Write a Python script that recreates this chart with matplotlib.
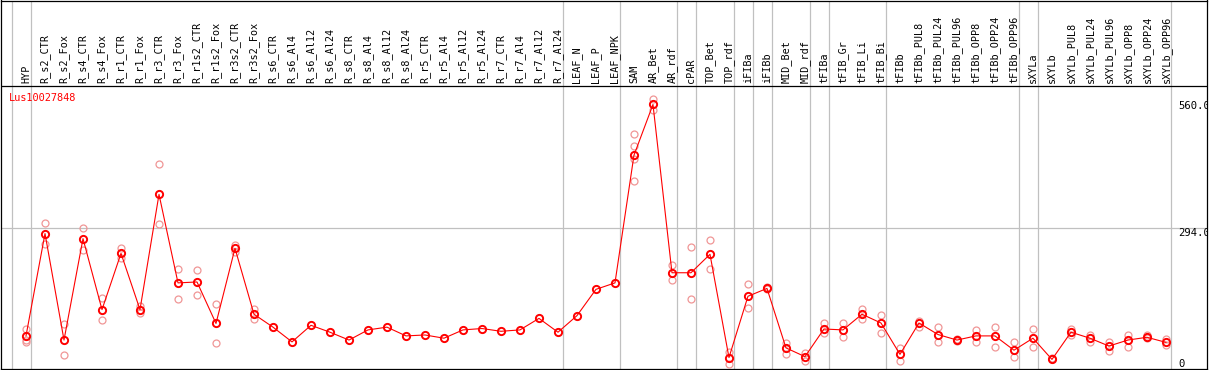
import numpy as np
import matplotlib
matplotlib.use("Agg")
import matplotlib.pyplot as plt

gene = "Lus10027848"

samples = ["HYP",
           "R_s2_CTR", "R_s2_Fox", "R_s4_CTR", "R_s4_Fox", "R_r1_CTR", "R_r1_Fox",
           "R_r3_CTR", "R_r3_Fox", "R_r1s2_CTR", "R_r1s2_Fox", "R_r3s2_CTR", "R_r3s2_Fox",
           "R_s6_CTR", "R_s6_Al4", "R_s6_Al12", "R_s6_Al24",
           "R_s8_CTR", "R_s8_Al4", "R_s8_Al12", "R_s8_Al24",
           "R_r5_CTR", "R_r5_Al4", "R_r5_Al12", "R_r5_Al24",
           "R_r7_CTR", "R_r7_Al4", "R_r7_Al12", "R_r7_Al24",
           "LEAF_N", "LEAF_P", "LEAF_NPK",
           "SAM", "AR_Bet", "AR_rdf",
           "cPAR", "TOP_Bet", "TOP_rdf", "iFIBa", "iFIBb", "MID_Bet", "MID_rdf",
           "tFIBa", "tFIB_Gr", "tFIB_Li", "tFIB_Bi",
           "tFIBb", "tFIBb_PUL8", "tFIBb_PUL24", "tFIBb_PUL96",
           "tFIBb_OPP8", "tFIBb_OPP24", "tFIBb_OPP96",
           "sXYLa",
           "sXYLb", "sXYLb_PUL8", "sXYLb_PUL24", "sXYLb_PUL96",
           "sXYLb_OPP8", "sXYLb_OPP24", "sXYLb_OPP96"]

# 每组样本的个数（组之间画灰色竖线）
group_sizes = [1, 28, 3, 3, 1, 2, 1, 1, 2, 1, 3, 7, 1, 7]

means = [61,
         283, 52, 272, 118, 240, 118, 368, 176, 178, 88, 251, 108,
         80, 48, 84, 69, 52, 74, 80, 61, 63, 56, 74, 77, 71, 74, 99, 69,
         105, 162, 176,
         453, 563, 198,
         198, 238, 14, 147, 164, 35, 16,
         76, 74, 108, 89,
         21, 89, 64, 52, 61, 61, 30,
         56,
         10, 69, 56, 39, 52, 58, 47]

replicates = [[77, 52, 48],
              [305, 261], [87, 20], [296, 248], [144, 95], [251, 229], [126, 111],
              [433, 303], [207, 142], [205, 149], [131, 45], [259, 243], [120, 97],
              [], [], [], [], [], [], [], [], [], [], [], [], [], [], [], [],
              [], [], [],
              [500, 474, 445, 396], [576, 552], [214, 182],
              [253, 142], [268, 207], [27, 0], [173, 121], [167, 162], [46, 22], [24, 7],
              [88, 68], [90, 59], [120, 98], [106, 68],
              [35, 6], [94, 81], [80, 48], [50, 55], [74, 48], [81, 36], [48, 15],
              [77, 36],
              [12, 10], [76, 63], [63, 48], [48, 29], [63, 37], [63, 56], [54, 41]]

scale_ticks = [0, 294, 560]
scale_labels = ["0", "294.0", "560.0"]
scale_valign = ["center", "top", "center"]

red = "#ff0000"
pink = "#f09696"
grey = "#c0c0c0"

fig = plt.figure(figsize=(12.09, 3.70), dpi=100)
ax = fig.add_axes([1 / 1209, 1 / 370, 1206 / 1209, 368.5 / 370])

x = np.arange(len(samples))
header_y = 604

# 组分隔竖线
bounds = np.cumsum([0] + group_sizes) - 1
for b in bounds:
    ax.axvline(b + 0.24, color=grey, lw=0.9, zorder=1)
ax.axhline(294, color=grey, lw=0.9, zorder=1)
ax.axhline(header_y, color="black", lw=0.9, zorder=2)

# 重复样本
rx = [i for i, r in enumerate(replicates) for _ in r]
ry = [v for r in replicates for v in r]
ax.plot(rx, ry, "o", ms=5, mfc="none", mec=pink, mew=0.9, zorder=3)

ax.plot(x, means, "-", color=red, lw=0.8, zorder=4)
ax.plot(x, means, "o", ms=5.2, mfc="none", mec=red, mew=1.4, zorder=5)

for i, name in enumerate(samples):
    ax.text(i, header_y + 5, name, rotation=90, ha="center", va="bottom",
            family="DejaVu Sans Mono", fontsize=7.3, color="black")

for v, lab, va in zip(scale_ticks, scale_labels, scale_valign):
    ax.text(60.65, v, lab, ha="left", va=va, family="DejaVu Sans Mono",
            fontsize=7.6, color="black", clip_on=True)

ax.text(0.0069, 0.749, gene, transform=ax.transAxes, ha="left", va="top",
        family="DejaVu Sans Mono", fontsize=7.4, color=red)

ax.set_xlim(-1.316, 62.16)
ax.set_ylim(-10.8, 788.6)
ax.set_xticks([])
ax.set_yticks([])
for s in ax.spines.values():
    s.set_linewidth(0.9)
    s.set_color("black")

fig.savefig("out.png", dpi=100)
